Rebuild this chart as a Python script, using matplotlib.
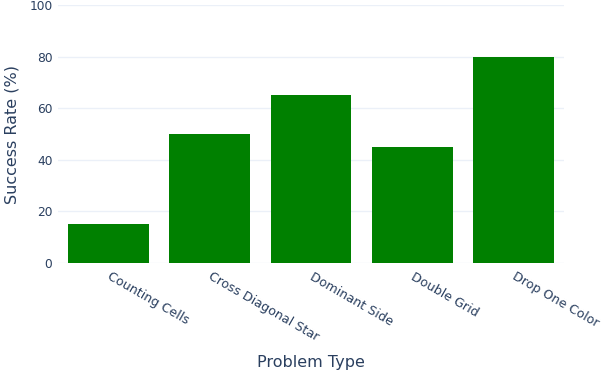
import matplotlib
matplotlib.use("Agg")
import matplotlib.pyplot as plt
import matplotlib.transforms as mtransforms

categories = ["Counting Cells", "Cross Diagonal Star", "Dominant Side", "Double Grid", "Drop One Color"]
success_rate = [15, 50, 65, 45, 80]
yticks = [0, 20, 40, 60, 80, 100]

text_color = "#2a3f5f"
grid_color = "#ebf0f8"

W, H = 602, 374
fig = plt.figure(figsize=(W / 100, H / 100), dpi=100)
# plot area in pixels: x 58..564, y 5..263
ax = fig.add_axes([58 / W, (H - 263) / H, (564 - 58) / W, (263 - 5) / H])

x = list(range(len(categories)))
ax.bar(x, success_rate, width=0.8, color="#008000", zorder=3)

ax.set_xlim(-0.5, len(categories) - 0.5)
ax.set_ylim(0, 100)
ax.set_yticks(yticks)
ax.set_yticklabels([str(t) for t in yticks])
ax.set_xticks(x)
ax.set_xticklabels(categories, rotation=-30, ha="left", va="top", rotation_mode="anchor")

for s in ax.spines.values():
    s.set_visible(False)
ax.grid(axis="y", color=grid_color, linewidth=1, zorder=0)
ax.tick_params(axis="y", length=0, labelsize=8.8, labelcolor=text_color, pad=4)
ax.tick_params(axis="x", length=0, labelsize=9.1, labelcolor=text_color, pad=5)

# nudge the slanted labels a little to the right, like the reference
shift = mtransforms.ScaledTranslation(3 / 100, 0, fig.dpi_scale_trans)
for lbl in ax.get_xticklabels():
    lbl.set_transform(lbl.get_transform() + shift)

ax.set_ylabel("Success Rate (%)", fontsize=11.5, color=text_color, va="center")
ax.yaxis.set_label_coords(-(58 - 12) / (564 - 58), 0.5)
ax.set_xlabel("Problem Type", fontsize=11.5, color=text_color, va="center")
ax.xaxis.set_label_coords(0.5, -(362 - 263) / (263 - 5))

fig.savefig("out.png", dpi=100)
